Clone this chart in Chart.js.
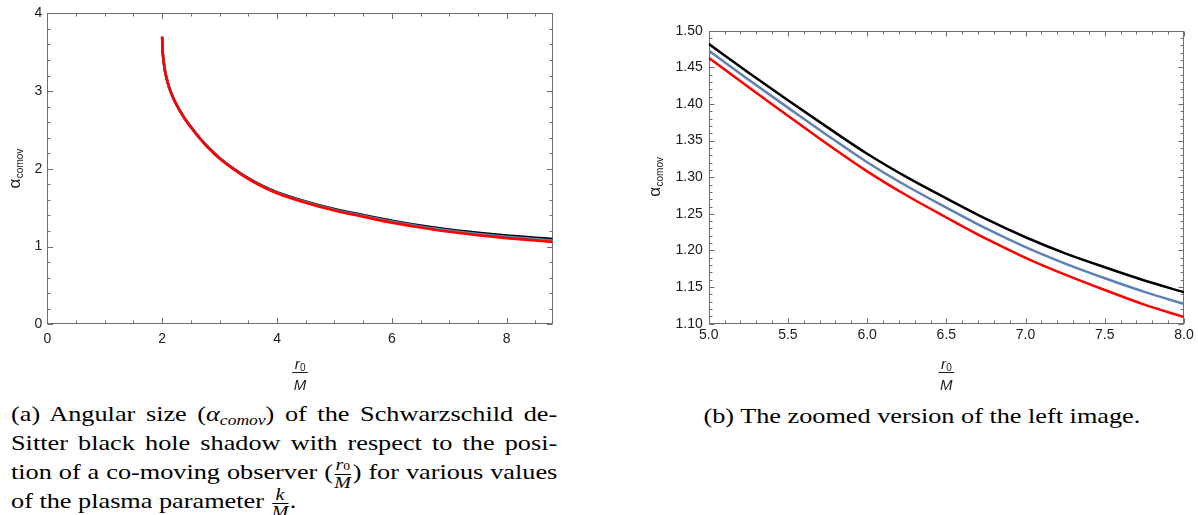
<!DOCTYPE html>
<html>
<head>
<meta charset="utf-8">
<script src="https://cdn.jsdelivr.net/npm/chart.js@4.4.0/dist/chart.umd.min.js"></script>
<style>
html,body{margin:0;padding:0;background:#fff;width:1198px;height:515px;overflow:hidden;}
#c1{position:absolute;left:0;top:0;}
#c2{position:absolute;left:600px;top:0;}
.cap{position:absolute;font-family:'Liberation Serif','DejaVu Serif',serif;font-size:21px;color:#000;line-height:29px;height:29px;transform:scaleX(1.25);transform-origin:0 0;}
.j{text-align:justify;text-align-last:justify;}
.m{font-style:italic;}
.sub{font-style:italic;font-size:14px;vertical-align:-4px;}
.frac{display:inline-block;vertical-align:middle;text-align:center;font-size:16px;line-height:14px;margin:0 1px;}
.frac .n{display:block;border-bottom:1.3px solid #000;padding:0 1px 1px 1px;font-style:italic;}
.frac .d{display:block;font-style:italic;padding-top:1px;}
.frac .n span{font-style:normal;font-size:11px;}
</style>
</head>
<body>
<canvas id="c1" width="600" height="400"></canvas>
<canvas id="c2" width="598" height="400"></canvas>

<div class="cap j" style="left:11px;top:400px;width:437px;">(a) Angular size (<span class="m">α</span><span class="sub">comov</span>) of the Schwarzschild de-</div>
<div class="cap j" style="left:11px;top:429px;width:437px;">Sitter black hole shadow with respect to the posi-</div>
<div class="cap j" style="left:11px;top:458px;width:437px;">tion of a co-moving observer (<span class="frac"><span class="n">r<span>0</span></span><span class="d">M</span></span>) for various values</div>
<div class="cap" style="left:11px;top:487px;width:437px;">of the plasma parameter <span class="frac"><span class="n">k</span><span class="d">M</span></span>.</div>
<div class="cap" style="left:680px;top:402px;width:387px;text-align:center;">(b) The zoomed version of the left image.</div>

<script>
// ---------- data ----------
const leftX     = [2.0, 2.005, 2.02, 2.05, 2.1, 2.15, 2.2, 2.3, 2.4, 2.5, 2.65, 2.8, 3.0, 3.25, 3.5, 3.75, 4.0, 4.5, 5.0, 5.5, 6.0, 6.5, 7.0, 7.5, 8.0, 8.5, 8.8];
const leftBlack = [3.70, 3.56, 3.42, 3.26, 3.10, 2.99, 2.90, 2.76, 2.64, 2.54, 2.40, 2.28, 2.14, 2.00, 1.88, 1.78, 1.70, 1.58, 1.482, 1.405, 1.332, 1.271, 1.218, 1.177, 1.143, 1.114, 1.097];
const leftBlue  = [3.70, 3.56, 3.42, 3.26, 3.10, 2.99, 2.899, 2.759, 2.639, 2.539, 2.398, 2.278, 2.137, 1.996, 1.875, 1.775, 1.694, 1.572, 1.473, 1.395, 1.321, 1.259, 1.205, 1.162, 1.127, 1.097, 1.079];
const leftRed   = [3.70, 3.56, 3.42, 3.26, 3.099, 2.989, 2.898, 2.758, 2.637, 2.537, 2.396, 2.275, 2.133, 1.992, 1.870, 1.769, 1.687, 1.564, 1.463, 1.384, 1.308, 1.245, 1.190, 1.146, 1.109, 1.078, 1.059];

const rightX     = [5.0, 5.25, 5.5, 5.75, 6.0, 6.25, 6.5, 6.75, 7.0, 7.25, 7.5, 7.75, 8.0];
const rightBlack = [1.482, 1.443, 1.405, 1.368, 1.332, 1.300, 1.271, 1.243, 1.218, 1.196, 1.177, 1.159, 1.143];
const rightBlue  = [1.473, 1.4335, 1.395, 1.357, 1.3205, 1.288, 1.2585, 1.230, 1.2045, 1.182, 1.162, 1.1435, 1.127];
const rightRed   = [1.463, 1.423, 1.384, 1.345, 1.308, 1.275, 1.245, 1.216, 1.190, 1.167, 1.146, 1.126, 1.109];

const leftXTicks = [0, 2, 4, 6, 8];
const leftXTickLabels = ['0', '2', '4', '6', '8'];
const leftYTicks = [0, 1, 2, 3, 4];
const leftYTickLabels = ['0', '1', '2', '3', '4'];
const rightXTicks = [5.0, 5.5, 6.0, 6.5, 7.0, 7.5, 8.0];
const rightXTickLabels = ['5.0', '5.5', '6.0', '6.5', '7.0', '7.5', '8.0'];
const rightYTicks = [1.10, 1.15, 1.20, 1.25, 1.30, 1.35, 1.40, 1.45, 1.50];
const rightYTickLabels = ['1.10', '1.15', '1.20', '1.25', '1.30', '1.35', '1.40', '1.45', '1.50'];

const COL_BLACK = '#000000', COL_BLUE = '#5e81b5', COL_RED = '#ff0000';
const FRAME = '#6e6e6e';
const LABEL = '#1a1a1a';
const SANS = '"Liberation Sans", Arial, sans-serif';

function pts(xs, ys) { return xs.map((x, i) => ({ x: x, y: ys[i] })); }

// frame + inward ticks + axis titles
const framePlugin = {
  id: 'frame',
  beforeDatasetsDraw(chart, args, o) {
    const ctx = chart.ctx, a = chart.chartArea, xs = chart.scales.x, ys = chart.scales.y;
    ctx.save();
    ctx.strokeStyle = FRAME; ctx.lineWidth = 1;
    const L = Math.round(a.left) + 0.5, R = Math.round(a.right) - 0.5, T = Math.round(a.top) + 0.5, B = Math.round(a.bottom) - 0.5;
    ctx.strokeRect(L, T, R - L, B - T);
    const isMajor = (v, arr) => arr.some(m => Math.abs(m - v) < 1e-6);
    ctx.beginPath();
    for (let i = Math.ceil(xs.min / o.xMinor - 1e-6); i * o.xMinor <= xs.max + 1e-6; i++) {
      const v = i * o.xMinor, p = Math.round(xs.getPixelForValue(v)) + 0.5;
      const len = isMajor(v, o.xMajor) ? o.major : o.minor;
      ctx.moveTo(p, B); ctx.lineTo(p, B - len);
      ctx.moveTo(p, T); ctx.lineTo(p, T + len);
    }
    for (let i = Math.ceil(ys.min / o.yMinor - 1e-6); i * o.yMinor <= ys.max + 1e-6; i++) {
      const v = i * o.yMinor, p = Math.round(ys.getPixelForValue(v)) + 0.5;
      const len = isMajor(v, o.yMajor) ? o.major : o.minor;
      ctx.moveTo(L, p); ctx.lineTo(L + len, p);
      ctx.moveTo(R, p); ctx.lineTo(R - len, p);
    }
    ctx.stroke();

    // y title  alpha_comov (rotated)
    ctx.save();
    ctx.translate(o.yTitleX, (a.top + a.bottom) / 2 + o.yTitleDy);
    ctx.rotate(-Math.PI / 2);
    ctx.fillStyle = LABEL; ctx.textAlign = 'left'; ctx.textBaseline = 'alphabetic';
    ctx.font = '17px ' + SANS; const wa = ctx.measureText('α').width;
    ctx.font = '10px ' + SANS; const ws = ctx.measureText('comov').width;
    const s = -(wa + ws) / 2;
    ctx.font = '17px ' + SANS; ctx.fillText('α', s, 4);
    ctx.font = '10px ' + SANS; ctx.fillText('comov', s + wa + 0.5, 6.5);
    ctx.restore();

    // x title  r0 / M
    const cx = (a.left + a.right) / 2, ly = o.xTitleLineY;
    ctx.font = 'italic 15px ' + SANS; const wr = ctx.measureText('r').width;
    ctx.font = '10px ' + SANS; const w0 = ctx.measureText('0').width;
    const tw = wr + w0, x0 = cx - tw / 2;
    ctx.fillStyle = LABEL; ctx.textAlign = 'left'; ctx.textBaseline = 'alphabetic';
    ctx.font = 'italic 15px ' + SANS; ctx.fillText('r', x0, ly - 3);
    ctx.font = '10px ' + SANS; ctx.fillText('0', x0 + wr + 0.3, ly - 1.5);
    ctx.strokeStyle = LABEL; ctx.lineWidth = 1;
    ctx.beginPath(); ctx.moveTo(x0 - 2.5, ly + 0.5); ctx.lineTo(x0 + tw + 2.5, ly + 0.5); ctx.stroke();
    ctx.font = 'italic 15px ' + SANS; ctx.textAlign = 'center';
    ctx.fillText('M', cx, ly + 18);
    ctx.restore();
  }
};

function makeChart(id, cfg) {
  return new Chart(document.getElementById(id), {
    type: 'scatter',
    data: {
      datasets: [
        { data: pts(cfg.xs, cfg.red),   borderColor: COL_RED,   backgroundColor: COL_RED,   showLine: true },
        { data: pts(cfg.xs, cfg.blue),  borderColor: COL_BLUE,  backgroundColor: COL_BLUE,  showLine: true },
        { data: pts(cfg.xs, cfg.black), borderColor: COL_BLACK, backgroundColor: COL_BLACK, showLine: true }
      ]
    },
    options: {
      responsive: false, animation: false, devicePixelRatio: 1,
      layout: { padding: cfg.padding },
      elements: { point: { radius: 0, hoverRadius: 0 }, line: { borderWidth: cfg.lw, cubicInterpolationMode: 'monotone', fill: false } },
      plugins: { legend: { display: false }, tooltip: { enabled: false }, frame: cfg.frame },
      scales: {
        x: {
          type: 'linear', min: cfg.xmin, max: cfg.xmax,
          grid: { display: false, drawTicks: false, tickLength: 0 }, border: { display: false },
          afterBuildTicks: s => { s.ticks = cfg.xTicks.map(v => ({ value: v })); },
          afterFit: s => { s.height = cfg.xAxisH; },
          ticks: { padding: cfg.xPad, color: LABEL, font: { family: SANS, size: 14 }, maxRotation: 0, autoSkip: false,
                   callback: (v, i) => cfg.xLabels[i] }
        },
        y: {
          type: 'linear', min: cfg.ymin, max: cfg.ymax,
          grid: { display: false, drawTicks: false, tickLength: 0 }, border: { display: false },
          afterBuildTicks: s => { s.ticks = cfg.yTicks.map(v => ({ value: v })); },
          afterFit: s => { s.width = cfg.yAxisW; },
          ticks: { padding: cfg.yPad, color: LABEL, font: { family: SANS, size: 14 }, autoSkip: false,
                   callback: (v, i) => cfg.yLabels[i] }
        }
      }
    },
    plugins: [framePlugin]
  });
}

makeChart('c1', {
  xs: leftX, black: leftBlack, blue: leftBlue, red: leftRed,
  xmin: 0, xmax: 8.8, ymin: 0, ymax: 4,
  xTicks: leftXTicks, xLabels: leftXTickLabels, yTicks: leftYTicks, yLabels: leftYTickLabels,
  padding: { left: 0, top: 12.7, right: 47.3, bottom: 0 },
  xAxisH: 75.7, yAxisW: 47.3, xPad: 6, yPad: 5, lw: 2.6,
  frame: { xMinor: 0.5, yMinor: 0.2, xMajor: leftXTicks, yMajor: leftYTicks, major: 5.5, minor: 3,
           yTitleX: 16, yTitleDy: 0, xTitleLineY: 372 }
});

makeChart('c2', {
  xs: rightX, black: rightBlack, blue: rightBlue, red: rightRed,
  xmin: 5, xmax: 8, ymin: 1.10, ymax: 1.50,
  xTicks: rightXTicks, xLabels: rightXTickLabels, yTicks: rightYTicks, yLabels: rightYTickLabels,
  padding: { left: 0, top: 30.7, right: 14, bottom: 0 },
  xAxisH: 76.3, yAxisW: 108.7, xPad: 3, yPad: 6, lw: 2.5,
  frame: { xMinor: 0.1, yMinor: 0.01, xMajor: rightXTicks, yMajor: rightYTicks, major: 5, minor: 3,
           yTitleX: 56, yTitleDy: 0, xTitleLineY: 372 }
});
</script>
</body>
</html>
